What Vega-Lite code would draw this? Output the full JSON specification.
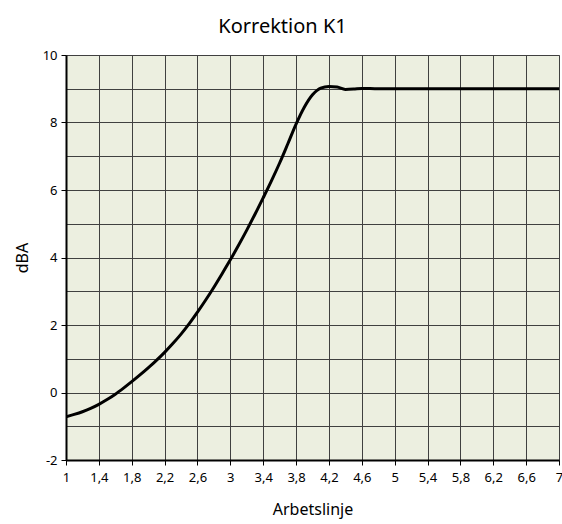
{
  "$schema": "https://vega.github.io/schema/vega-lite/v6.json",
  "width": 493,
  "height": 405,
  "autosize": {"type": "none"},
  "padding": {"left": 66, "top": 55, "right": 3, "bottom": 64},
  "background": "#ffffff",
  "title": {
    "text": "Korrektion K1",
    "font": "Noto Sans",
    "fontSize": 20,
    "fontWeight": "normal",
    "color": "#000000",
    "anchor": "middle",
    "dx": -30,
    "offset": 12
  },
  "config": {
    "view": {"fill": "#ECEFE0", "stroke": "#999999", "strokeWidth": 1},
    "axis": {
      "labelFont": "Noto Sans",
      "titleFont": "Noto Sans",
      "labelColor": "#000000",
      "titleColor": "#000000",
      "titleFontWeight": "normal",
      "gridColor": "#404040",
      "gridOpacity": 1,
      "gridWidth": 1,
      "domainColor": "#000000",
      "tickColor": "#000000"
    }
  },
  "data": {
    "values": [
      {"x": 1.0, "y": -0.72},
      {"x": 1.1, "y": -0.65},
      {"x": 1.2, "y": -0.57},
      {"x": 1.3, "y": -0.47},
      {"x": 1.4, "y": -0.35},
      {"x": 1.5, "y": -0.21},
      {"x": 1.6, "y": -0.05},
      {"x": 1.7, "y": 0.13},
      {"x": 1.8, "y": 0.32},
      {"x": 1.9, "y": 0.52},
      {"x": 2.0, "y": 0.73},
      {"x": 2.1, "y": 0.95},
      {"x": 2.2, "y": 1.19},
      {"x": 2.3, "y": 1.45},
      {"x": 2.4, "y": 1.73},
      {"x": 2.5, "y": 2.04},
      {"x": 2.6, "y": 2.38},
      {"x": 2.7, "y": 2.74},
      {"x": 2.8, "y": 3.12},
      {"x": 2.9, "y": 3.52},
      {"x": 3.0, "y": 3.93},
      {"x": 3.1, "y": 4.36},
      {"x": 3.2, "y": 4.81},
      {"x": 3.3, "y": 5.28},
      {"x": 3.4, "y": 5.77},
      {"x": 3.5, "y": 6.27},
      {"x": 3.6, "y": 6.8},
      {"x": 3.7, "y": 7.37},
      {"x": 3.8, "y": 7.95},
      {"x": 3.9, "y": 8.45},
      {"x": 4.0, "y": 8.82},
      {"x": 4.1, "y": 9.02},
      {"x": 4.2, "y": 9.07},
      {"x": 4.3, "y": 9.05},
      {"x": 4.4, "y": 8.98},
      {"x": 4.5, "y": 8.99},
      {"x": 4.6, "y": 9.01},
      {"x": 4.8, "y": 9.0},
      {"x": 5.0, "y": 9.0},
      {"x": 5.5, "y": 9.0},
      {"x": 6.0, "y": 9.0},
      {"x": 6.5, "y": 9.0},
      {"x": 7.0, "y": 9.0}
    ]
  },
  "mark": {"type": "line", "color": "#000000", "strokeWidth": 3, "interpolate": "monotone", "clip": true},
  "encoding": {
    "x": {
      "field": "x",
      "type": "quantitative",
      "scale": {"domain": [1, 7], "nice": false, "zero": false},
      "axis": {
        "title": "Arbetslinje",
        "titleFontSize": 16,
        "titlePadding": 17,
        "values": [1, 1.4, 1.8, 2.2, 2.6, 3, 3.4, 3.8, 4.2, 4.6, 5, 5.4, 5.8, 6.2, 6.6, 7],
        "labelExpr": "replace(format(datum.value, '.1~f'), '.', ',')",
        "labelFontSize": 13,
        "labelPadding": 6,
        "tickSize": 5,
        "domainWidth": 2,
        "labelFlush": false,
        "labelOverlap": false
      }
    },
    "y": {
      "field": "y",
      "type": "quantitative",
      "scale": {"domain": [-2, 10], "nice": false, "zero": false},
      "axis": {
        "title": "dBA",
        "titleFontSize": 16,
        "titlePadding": 12,
        "values": [-2, -1, 0, 1, 2, 3, 4, 5, 6, 7, 8, 9, 10],
        "labelExpr": "datum.value % 2 == 0 ? datum.value : ''",
        "tickOpacity": {"condition": {"test": "datum.value % 2 == 0", "value": 1}, "value": 0},
        "labelFontSize": 13,
        "labelPadding": 4,
        "tickSize": 5,
        "domainWidth": 2,
        "labelFlush": false,
        "labelOverlap": false
      }
    }
  }
}
